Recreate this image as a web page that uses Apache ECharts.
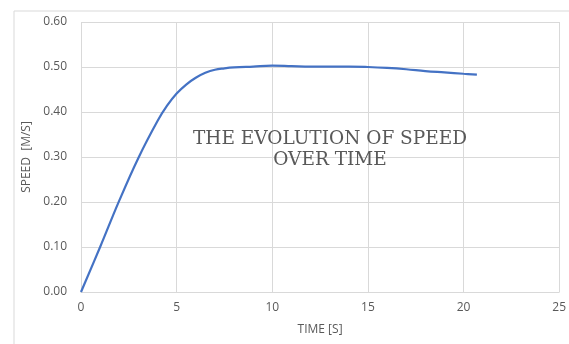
<!DOCTYPE html>
<html><head><meta charset="utf-8">
<script src="https://cdn.jsdelivr.net/npm/echarts@6/dist/echarts.min.js"></script>
<style>html,body{margin:0;padding:0;background:#fff}#c{width:569px;height:344px}</style>
</head><body><div id="c"></div>
<script>
const timeValues = [0, 1, 2, 3, 4, 4.5, 5, 5.5, 6, 6.5, 7, 7.5, 8, 9, 10, 11, 12, 13, 14, 15, 16, 17, 18, 19, 20, 20.7];
const speedValues = [0, 0.1, 0.203, 0.298, 0.38, 0.414, 0.441, 0.461, 0.476, 0.487, 0.494, 0.497, 0.499, 0.501, 0.503, 0.502, 0.501, 0.501, 0.501, 0.5, 0.498, 0.495, 0.491, 0.488, 0.485, 0.483];
const xTicks = [0, 5, 10, 15, 20, 25];
const yTicks = [0, 0.1, 0.2, 0.3, 0.4, 0.5, 0.6];
const titleText = 'THE EVOLUTION OF SPEED\nOVER TIME';
const xName = 'TIME [S]';
const yName = 'SPEED  [M/S]';

const chart = echarts.init(document.getElementById('c'), null, {renderer: 'canvas'});
const labelColor = '#595959';
const gridColor = '#d9d9d9';
chart.setOption({
  animation: false,
  backgroundColor: '#fff',
  graphic: [{
    type: 'rect', shape: {x: 14, y: 11, width: 600, height: 400},
    style: {fill: 'none', stroke: '#d9d9d9', lineWidth: 1}, silent: true, z: -1
  }],
  title: {
    text: titleText, left: 325, top: 124, textAlign: 'center',
    textStyle: {fontFamily: 'DejaVu Serif', fontWeight: 'normal', fontSize: 18.5, color: '#595959', lineHeight: 21}
  },
  grid: {left: 81, top: 22, right: 6, bottom: 52},
  xAxis: {
    type: 'value', min: xTicks[0], max: xTicks[xTicks.length - 1], interval: 5,
    name: xName, nameLocation: 'middle', nameGap: 32,
    nameTextStyle: {fontFamily: 'Open Sans', fontSize: 12, color: labelColor},
    axisLine: {show: true, lineStyle: {color: gridColor}},
    axisTick: {show: false},
    axisLabel: {fontFamily: 'Open Sans', fontSize: 12, color: labelColor, margin: 10},
    splitLine: {show: true, lineStyle: {color: gridColor}}
  },
  yAxis: {
    type: 'value', min: yTicks[0], max: yTicks[yTicks.length - 1], interval: 0.1,
    name: yName, nameLocation: 'middle', nameGap: 46,
    nameTextStyle: {fontFamily: 'Open Sans', fontSize: 12, color: labelColor},
    axisLine: {show: false}, axisTick: {show: false},
    axisLabel: {fontFamily: 'Open Sans', fontSize: 12, color: labelColor, margin: 14,
      formatter: v => v.toFixed(2)},
    splitLine: {show: true, lineStyle: {color: gridColor}}
  },
  series: [{
    type: 'line', smooth: 0.4, showSymbol: false,
    data: timeValues.map((t, i) => [t, speedValues[i]]),
    lineStyle: {color: '#4472c4', width: 2.2}
  }]
});
</script></body></html>
